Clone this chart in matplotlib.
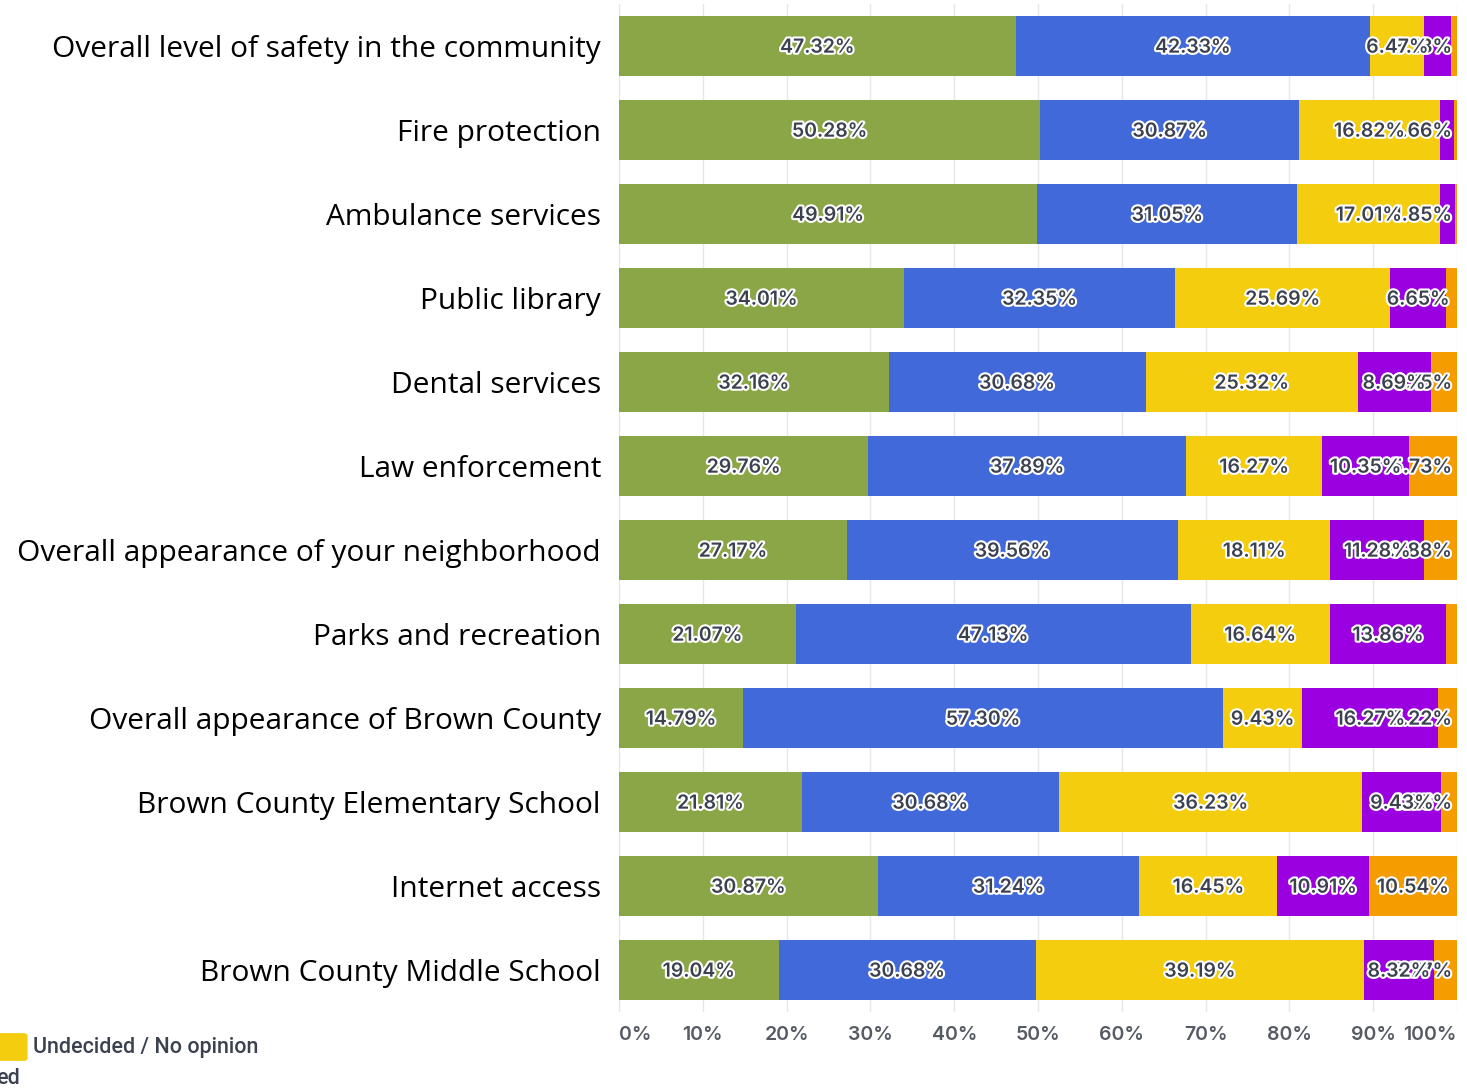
import numpy as np
import matplotlib.pyplot as plt
import matplotlib.patheffects as pe
from matplotlib.patches import FancyBboxPatch

# categorias (de cima para baixo)
categorias = ['Overall level of safety in the community', 'Fire protection',
              'Ambulance services', 'Public library', 'Dental services',
              'Law enforcement', 'Overall appearance of your neighborhood',
              'Parks and recreation', 'Overall appearance of Brown County',
              'Brown County Elementary School', 'Internet access',
              'Brown County Middle School']

verde = [47.32, 50.28, 49.91, 34.01, 32.16, 29.76, 27.17, 21.07, 14.79, 21.81, 30.87, 19.04]
azul = [42.33, 30.87, 31.05, 32.35, 30.68, 37.89, 39.56, 47.13, 57.30, 30.68, 31.24, 30.68]
amarelo = [6.47, 16.82, 17.01, 25.69, 25.32, 16.27, 18.11, 16.64, 9.43, 36.23, 16.45, 39.19]
roxo = [3.13, 1.66, 1.85, 6.65, 8.69, 10.35, 11.28, 13.86, 16.27, 9.43, 10.91, 8.32]
laranja = [0.75, 0.37, 0.18, 1.30, 3.15, 5.73, 3.88, 1.30, 2.22, 1.85, 10.54, 2.77]

series = [verde, azul, amarelo, roxo, laranja]
cores = ['#8ba646', '#4169d9', '#f4cd0e', '#9b00e0', '#f59c00']
ticks = np.arange(0, 101, 10)

fig = plt.figure(figsize=(14.67, 10.91), dpi=100)
ax = fig.add_axes([619/1467, 1 - 1012/1091, 838/1467, 1008/1091])

y = np.arange(len(categorias))
esq = np.zeros(len(categorias))
lefts = []
for vals, cor in zip(series, cores):
  vals = np.array(vals)
  ax.barh(y, vals, left=esq, height=0.714, color=cor, zorder=2)
  lefts.append(esq.copy())
  esq = esq + vals

ax.set_ylim(len(categorias) - 0.5, -0.5)
ax.set_xlim(0, 100)

# rótulos: séries anteriores ficam por cima; segmentos muito pequenos sem rótulo
textos = []
for k in range(len(series) - 1, -1, -1):
  for i, v in enumerate(series[k]):
    if v < 1.5:
      continue
    t = ax.text(lefts[k][i] + v/2, y[i] + 0.02, '{:.2f}%'.format(v), ha='center', va='center',
                fontsize=14, color='#3c4150', family='Inter', fontweight='semibold',
                zorder=3 + (len(series) - k),
                path_effects=[pe.withStroke(linewidth=3, foreground='white')])
    textos.append(t)

# manter os rótulos dentro da barra, como no original
fig.canvas.draw()
r = fig.canvas.get_renderer()
lim = ax.transData.transform((100, 0))[0] - 5
for t in textos:
  bb = t.get_window_extent(r)
  if bb.x1 > lim:
    xp = ax.transData.transform(t.get_position())
    xn = ax.transData.inverted().transform((xp[0] - (bb.x1 - lim), xp[1]))
    t.set_position((xn[0], t.get_position()[1]))

ax.set_yticks(y)
ax.set_yticklabels(categorias, fontsize=21.5, family='Open Sans', color='black')
ax.set_xticks(ticks)
ax.set_xticklabels([str(t) + '%' for t in ticks], fontsize=14, family='Inter',
                   color='#555a63', fontweight='semibold')
xl = ax.get_xticklabels()
xl[0].set_ha('left')
xl[-1].set_ha('right')
ax.tick_params(axis='both', length=0)
ax.tick_params(axis='x', pad=10)
ax.tick_params(axis='y', pad=13)
ax.grid(axis='x', color='#e6e6e6', linewidth=1, zorder=0)
for s in ax.spines.values():
  s.set_visible(False)

# legenda cortada na parte de baixo
fig.patches.append(FancyBboxPatch((-12/1467, 1 - 1058/1091), 36/1467, 22/1091,
                                  boxstyle='round,pad=0.002', transform=fig.transFigure,
                                  color='#f4cd0e'))
fig.text(33/1467, 1 - 1048/1091, 'Undecided / No opinion', fontsize=15.5, family='Roboto',
         color='#3c4150', va='center', ha='left', fontweight='medium')
fig.text(-4/1467, 1 - 1079/1091, 'ed', fontsize=15.5, family='Roboto',
         color='#3c4150', va='center', ha='left', fontweight='medium')

fig.savefig('out.png', dpi=100)
